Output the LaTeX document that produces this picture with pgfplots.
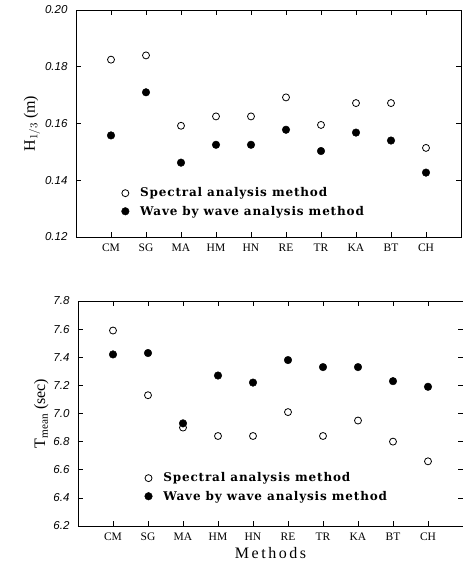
\documentclass[border=0pt]{standalone}
\usepackage{pgfplots}
\pgfplotsset{compat=1.18}
\usepackage{fontspec}
\setmainfont{Liberation Serif}
\setsansfont{Liberation Sans}
\newfontfamily\legfont[LetterSpace=7]{DejaVu Serif}
\newfontfamily\labfont[LetterSpace=16]{Liberation Serif}
\pgfplotsset{mystyle/.style={
  scale only axis, width=385pt,
  xmin=0, xmax=11, xtick={1,...,10},
  xticklabels={CM,SG,MA,HM,HN,RE,TR,KA,BT,CH},
  tick align=inside, major tick length=5pt,
  xtick pos=both, ytick pos=both,
  x tick label style={font=\fontsize{11.5}{11.5}\selectfont, yshift=-3pt},
  y tick label style={font=\sffamily\itshape\fontsize{11.5}{11.5}\selectfont, xshift=-5pt},
  /pgf/number format/assume math mode=true,
  axis line style={line width=0.8pt},
  every tick/.style={black, line width=0.7pt},
  ylabel style={font=\fontsize{16}{16}\selectfont, yshift=-2pt},
  legend style={draw=none, fill=none, font=\legfont\bfseries\fontsize{12}{14}\selectfont,
    anchor=north west, row sep=3.5pt, column sep=9pt},
  legend cell align=left,
}}
\begin{document}
\begin{tikzpicture}
% top panel
\begin{axis}[mystyle, at={(76pt,329pt)}, anchor=south west, height=227pt,
  ymin=0.12, ymax=0.20, ytick={0.12,0.14,...,0.201},
  yticklabel style={/pgf/number format/fixed, /pgf/number format/precision=2, /pgf/number format/fixed zerofill},
  ylabel={H$_{1/3}$ (m)},
  legend style={at={(0.11,0.235)}}]
\addplot[only marks, mark=o, mark size=3.5pt, mark options={line width=0.8pt}] coordinates {
(1,0.1825) (2,0.1840) (3,0.1592) (4,0.1625) (5,0.1625) (6,0.1692) (7,0.1595) (8,0.1672) (9,0.1672) (10,0.1514)};
\addlegendentry{Spectral analysis method}
\addplot[only marks, mark=*, mark size=3.8pt] coordinates {
(1,0.1558) (2,0.1710) (3,0.1462) (4,0.1525) (5,0.1525) (6,0.1578) (7,0.1503) (8,0.1568) (9,0.1540) (10,0.1427)};
\addlegendentry{Wave by wave analysis method}
\end{axis}
% bottom panel
\begin{axis}[mystyle, at={(78pt,40pt)}, anchor=south west, height=225pt,
  ymin=6.2, ymax=7.8, ytick={6.2,6.4,...,7.81},
  yticklabel style={/pgf/number format/fixed, /pgf/number format/precision=1, /pgf/number format/fixed zerofill},
  ylabel={T$_{\mathrm{mean}}$ (sec)},
  xlabel={\labfont\fontsize{16}{16}\selectfont Methods},
  legend style={at={(0.165,0.255)}}]
\addplot[only marks, mark=o, mark size=3.5pt, mark options={line width=0.8pt}] coordinates {
(1,7.59) (2,7.13) (3,6.90) (4,6.84) (5,6.84) (6,7.01) (7,6.84) (8,6.95) (9,6.80) (10,6.66)};
\addlegendentry{Spectral analysis method}
\addplot[only marks, mark=*, mark size=3.8pt] coordinates {
(1,7.42) (2,7.43) (3,6.93) (4,7.27) (5,7.22) (6,7.38) (7,7.33) (8,7.33) (9,7.23) (10,7.19)};
\addlegendentry{Wave by wave analysis method}
\end{axis}
\pgfresetboundingbox
\path[use as bounding box] (0pt,0pt) rectangle (463pt,566pt);
\end{tikzpicture}
\end{document}
